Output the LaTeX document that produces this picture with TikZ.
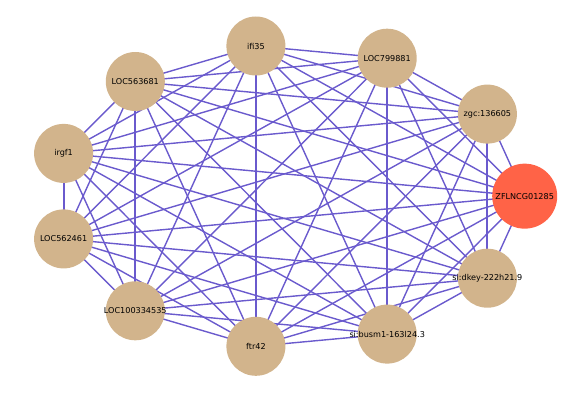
\documentclass[tikz,border=0pt]{standalone}
\usepackage{fontspec}
\setmainfont{DejaVu Sans}
\usetikzlibrary{backgrounds,calc}
\definecolor{nodetan}{HTML}{D2B48C}
\definecolor{nodered}{HTML}{FF6347}
\definecolor{edgeblue}{HTML}{6A5ACD}
\tikzset{
  gene/.style={circle, fill=nodetan, draw=none, inner sep=0pt, minimum size=59pt,
    font=\fontsize{8.1pt}{9pt}\selectfont, text=black},
  hub/.style={gene, fill=nodered, minimum size=65pt},
  link/.style={draw=edgeblue, line width=1.4pt},
  vlink/.style={draw=edgeblue, line width=1.9pt}
}
\begin{document}
\begin{tikzpicture}[x=1pt,y=-1pt]
\useasboundingbox (0,0) rectangle (588,393);
\foreach \k/\lab/\sty/\px/\py in {0/ZFLNCG01285/hub/524.7/196.15, 1/zgc:136605/gene/487.4/114.1,
  2/LOC799881/gene/387.2/58.2, 3/ifi35/gene/255.9/46.0,
  4/LOC563681/gene/135.3/81.5, 5/irgf1/gene/63.6/153.4, 6/LOC562461/gene/63.6/238.9,
  7/LOC100334535/gene/135.3/310.8, 8/ftr42/gene/255.9/346.3,
  9/si:busm1-163l24.3/gene/387.2/334.1, 10/si:dkey-222h21.9/gene/487.4/278.2}{
  \node[\sty] (n\k) at (\px,\py) {};
  \node[font=\fontsize{8.1pt}{9pt}\selectfont, inner sep=0pt] (t\k) at (n\k.center) {\lab};
}
\begin{pgfonlayer}{background}
\foreach \i in {0,...,10}{
  \foreach \j in {0,...,10}{
    \ifnum\j>\i
      \pgfmathtruncatemacro{\s}{\i+\j}
      \ifnum\s=11
        \draw[vlink] (n\i.center) -- (n\j.center);
      \else
        \draw[link] (n\i.center) -- (n\j.center);
      \fi
    \fi
  }
}
\end{pgfonlayer}
\end{tikzpicture}
\end{document}
